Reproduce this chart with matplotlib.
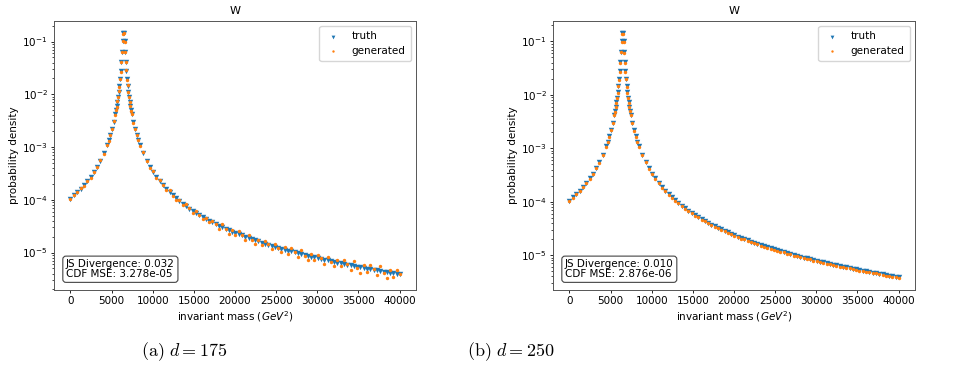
import matplotlib
matplotlib.use("Agg")
import matplotlib.pyplot as plt
import numpy as np

# invariant mass samples (GeV^2)
x_mass = [0, 450, 850, 1250, 1650, 2050, 2450, 2850, 3250, 3650, 4050, 4450,
          4650, 4850, 5050, 5250, 5450,
          5530, 5610, 5690, 5770, 5850, 5930, 6010, 6090, 6170, 6250, 6330, 6410,
          6490, 6570, 6650, 6730, 6810, 6890, 6970, 7050, 7130, 7210, 7290, 7370,
          7450, 7650, 7850, 8050, 8250, 8450,
          8850, 9250, 9650, 10050, 10450, 10850, 11250, 11650, 12050, 12450,
          12850, 13250, 13650, 14050, 14450, 14850, 15250, 15650, 16050, 16450,
          16850, 17250, 17650, 18050, 18450, 18850, 19250, 19650, 20050, 20450,
          20850, 21250, 21650, 22050, 22450, 22850, 23250, 23650, 24050, 24450,
          24850, 25250, 25650, 26050, 26450, 26850, 27250, 27650, 28050, 28450,
          28850, 29250, 29650, 30050, 30450, 30850, 31250, 31650, 32050, 32450,
          32850, 33250, 33650, 34050, 34450, 34850, 35250, 35650, 36050, 36450,
          36850, 37250, 37650, 38050, 38450, 38850, 39250, 39650, 40000]

# truth density
truth = [1.049e-4, 1.212e-4, 1.392e-4, 1.614e-4, 1.893e-4, 2.253e-4, 2.725e-4, 3.363e-4,
         4.254e-4, 5.551e-4, 7.545e-4, 1.084e-3,
         1.336e-3, 1.687e-3, 2.196e-3, 2.973e-3, 4.244e-3,
         4.989e-3, 5.945e-3, 7.199e-3, 8.887e-3, 1.123e-2, 1.458e-2, 1.961e-2, 2.752e-2,
         4.060e-2, 6.320e-2, 1.004e-1, 1.422e-1,
         1.422e-1, 1.004e-1, 6.320e-2, 4.060e-2, 2.752e-2, 1.961e-2, 1.458e-2, 1.123e-2,
         8.887e-3, 7.199e-3, 5.945e-3, 4.989e-3,
         4.244e-3, 2.973e-3, 2.196e-3, 1.687e-3, 1.336e-3, 1.084e-3,
         7.545e-4, 5.551e-4, 4.254e-4, 3.363e-4, 2.725e-4, 2.253e-4, 1.893e-4, 1.614e-4,
         1.392e-4, 1.212e-4, 1.066e-4, 9.440e-5, 8.421e-5, 7.558e-5, 6.822e-5, 6.188e-5,
         5.638e-5, 5.159e-5, 4.738e-5, 4.367e-5, 4.037e-5, 3.744e-5, 3.481e-5, 3.245e-5,
         3.033e-5, 2.840e-5, 2.666e-5, 2.506e-5, 2.361e-5, 2.228e-5, 2.106e-5, 1.994e-5,
         1.890e-5, 1.795e-5, 1.706e-5, 1.624e-5, 1.547e-5, 1.476e-5, 1.410e-5, 1.348e-5,
         1.290e-5, 1.236e-5, 1.185e-5, 1.137e-5, 1.092e-5, 1.050e-5, 1.010e-5, 9.718e-6,
         9.362e-6, 9.024e-6, 8.705e-6, 8.402e-6, 8.115e-6, 7.842e-6, 7.583e-6, 7.336e-6,
         7.102e-6, 6.878e-6, 6.665e-6, 6.461e-6, 6.267e-6, 6.081e-6, 5.904e-6, 5.734e-6,
         5.571e-6, 5.415e-6, 5.266e-6, 5.123e-6, 4.985e-6, 4.853e-6, 4.726e-6, 4.604e-6,
         4.487e-6, 4.374e-6, 4.266e-6, 4.161e-6, 4.060e-6, 3.963e-6, 3.880e-6]

# generated density, d = 175
gen_175 = [1.018e-4, 1.236e-4, 1.378e-4, 1.662e-4, 1.817e-4, 2.276e-4, 2.643e-4, 3.430e-4,
           4.211e-4, 5.718e-4, 7.243e-4, 1.095e-3,
           1.296e-3, 1.721e-3, 2.174e-3, 3.062e-3, 4.074e-3,
           5.039e-3, 5.767e-3, 7.343e-3, 8.798e-3, 1.157e-2, 1.400e-2, 1.981e-2, 2.669e-2,
           4.141e-2, 6.257e-2, 1.034e-1, 1.365e-1,
           1.436e-1, 9.739e-2, 6.446e-2, 4.019e-2, 2.835e-2, 1.883e-2, 1.473e-2, 1.089e-2,
           9.065e-3, 7.127e-3, 6.123e-3, 4.789e-3,
           4.286e-3, 2.884e-3, 2.240e-3, 1.670e-3, 1.376e-3, 1.041e-3,
           7.922e-4, 5.495e-4, 4.041e-4, 3.464e-4, 2.630e-4, 2.354e-4, 1.902e-4, 1.541e-4,
           1.517e-4, 1.190e-4, 9.701e-5, 9.950e-5, 7.890e-5, 8.170e-5, 6.883e-5, 5.687e-5,
           6.145e-5, 5.066e-5, 4.312e-5, 4.603e-5, 3.783e-5, 4.047e-5, 3.512e-5, 2.836e-5,
           3.458e-5, 2.760e-5, 2.293e-5, 2.717e-5, 2.130e-5, 2.509e-5, 2.135e-5, 1.743e-5,
           2.155e-5, 1.745e-5, 1.467e-5, 1.760e-5, 1.395e-5, 1.662e-5, 1.430e-5, 1.178e-5,
           1.471e-5, 1.201e-5, 1.019e-5, 1.260e-5, 9.544e-6, 1.220e-5, 1.028e-5, 8.144e-6,
           1.105e-5, 8.699e-6, 7.138e-6, 9.309e-6, 7.093e-6, 9.112e-6, 7.719e-6, 6.148e-6,
           8.380e-6, 6.630e-6, 5.465e-6, 7.159e-6, 5.477e-6, 7.285e-6, 6.034e-6, 4.599e-6,
           6.797e-6, 5.177e-6, 4.107e-6, 5.799e-6, 4.217e-6, 5.814e-6, 4.830e-6, 3.692e-6,
           5.474e-6, 4.182e-6, 3.327e-6, 4.710e-6, 3.435e-6, 4.748e-6, 3.965e-6]

# generated density, d = 250
gen_250 = [1.033e-4, 1.182e-4, 1.378e-4, 1.582e-4, 1.865e-4, 2.197e-4, 2.698e-4, 3.296e-4,
           4.190e-4, 5.412e-4, 7.470e-4, 1.062e-3,
           1.316e-3, 1.645e-3, 2.174e-3, 2.914e-3, 4.180e-3,
           4.864e-3, 5.886e-3, 7.055e-3, 8.754e-3, 1.095e-2, 1.443e-2, 1.922e-2, 2.711e-2,
           3.959e-2, 6.257e-2, 9.839e-2, 1.401e-1,
           1.386e-1, 9.940e-2, 6.194e-2, 3.999e-2, 2.683e-2, 1.941e-2, 1.429e-2, 1.106e-2,
           8.665e-3, 7.127e-3, 5.826e-3, 4.914e-3,
           4.138e-3, 2.943e-3, 2.152e-3, 1.662e-3, 1.303e-3, 1.073e-3,
           7.394e-4, 5.468e-4, 4.148e-4, 3.329e-4, 2.671e-4, 2.219e-4, 1.846e-4, 1.598e-4,
           1.364e-4, 1.194e-4, 1.039e-4, 9.346e-5, 8.253e-5, 7.445e-5, 6.651e-5, 6.126e-5,
           5.525e-5, 5.082e-5, 4.620e-5, 4.323e-5, 3.956e-5, 3.688e-5, 3.394e-5, 3.213e-5,
           2.972e-5, 2.797e-5, 2.599e-5, 2.481e-5, 2.314e-5, 2.195e-5, 2.053e-5, 1.974e-5,
           1.852e-5, 1.768e-5, 1.663e-5, 1.608e-5, 1.516e-5, 1.454e-5, 1.375e-5, 1.335e-5,
           1.264e-5, 1.217e-5, 1.155e-5, 1.126e-5, 1.070e-5, 1.034e-5, 9.848e-6, 9.621e-6,
           9.175e-6, 8.889e-6, 8.487e-6, 8.318e-6, 7.953e-6, 7.724e-6, 7.393e-6, 7.263e-6,
           6.960e-6, 6.775e-6, 6.498e-6, 6.396e-6, 6.142e-6, 5.990e-6, 5.756e-6, 5.677e-6,
           5.460e-6, 5.334e-6, 5.134e-6, 5.072e-6, 4.885e-6, 4.780e-6, 4.608e-6, 4.558e-6,
           4.397e-6, 4.308e-6, 4.159e-6, 4.119e-6, 3.979e-6, 3.904e-6, 3.783e-6]

panels = [
    # (left, generated, JS divergence, CDF MSE, caption, caption x)
    (54, gen_175, "0.032", "3.278e-05", r"$\mathrm{(a)}\ d = 175$", 184),
    (553, gen_250, "0.010", "2.876e-06", r"$\mathrm{(b)}\ d = 250$", 511),
]

W, H = 960, 369
fs = 7.5

fig = plt.figure(figsize=(W / 100, H / 100), dpi=100)

for left, gen, js, mse, caption, cx in panels:
    ax = fig.add_axes([left / W, (H - 290) / H, 362 / W, 269 / H])

    ax.scatter(x_mass, truth, marker="v", s=15, color="tab:blue", linewidths=0, label="truth")
    ax.scatter(x_mass, gen, marker=".", s=24, color="tab:orange", linewidths=0, label="generated")

    ax.set_yscale("log")
    ax.set_title("W", fontsize=8, pad=5)
    ax.set_xlabel(r"invariant mass ($GeV^2$)", fontsize=fs, labelpad=2)
    ax.set_ylabel("probability density", fontsize=fs, labelpad=2)
    ax.set_xticks(np.arange(0, 40001, 5000))
    ax.tick_params(labelsize=fs, length=2.5, width=0.6, pad=2)
    ax.tick_params(which="minor", length=1.5, width=0.5)
    for sp in ax.spines.values():
        sp.set_linewidth(0.7)
        sp.set_color("#555555")

    ax.legend(loc="upper right", fontsize=fs, handlelength=1.6, handletextpad=1.0,
              borderpad=0.5, markerscale=0.7, labelspacing=0.45)

    # metrics box
    ax.text(0.033, 0.04, f"JS Divergence: {js}\nCDF MSE: {mse}", transform=ax.transAxes,
            fontsize=fs, va="bottom", ha="left", linespacing=1.0,
            bbox=dict(boxstyle="round,pad=0.3", facecolor="white", edgecolor="#444444", linewidth=0.8))

    # subfigure caption
    fig.text(cx / W, 1 - 352 / H, caption, fontsize=13, ha="center", va="center",
             math_fontfamily="cm")

fig.savefig("out.png", dpi=100)
